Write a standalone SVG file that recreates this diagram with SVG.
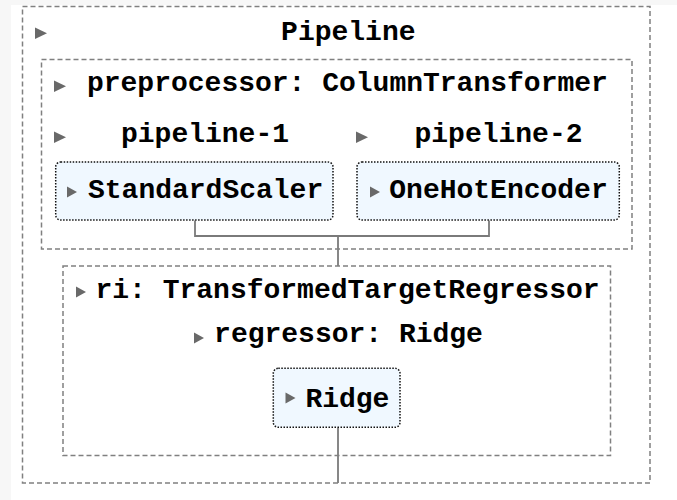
<svg xmlns="http://www.w3.org/2000/svg" width="677" height="500" viewBox="0 0 677 500">
  <style>
    .box { fill: none; stroke: #808080; stroke-width: 1.5; stroke-dasharray: 5 3; }
    .est { fill: #f0f8ff; stroke: #111; stroke-width: 1.5; stroke-dasharray: 1.5 1.5; }
    .lbl { font-family: "Courier New", "Nimbus Mono PS", "FreeMono", "Liberation Mono", monospace; font-weight: bold; font-size: 28px; fill: #000; text-anchor: middle; }
    .tri { fill: #696969; }
    .wire { fill: none; stroke: #7a7a7a; stroke-width: 1.8; }
  </style>

  <!-- page -->
  <rect x="0" y="0" width="677" height="500" fill="#f7f7f7"/>
  <rect x="11" y="5" width="666" height="495" fill="#ffffff"/>

  <!-- connectors -->
  <g id="connectors">
    <polyline class="wire" points="195,220.5 195,236 489,236 489,220.5"/>
    <line class="wire" x1="338" y1="236" x2="338" y2="266"/>
    <line class="wire" x1="338" y1="427.5" x2="338" y2="483"/>
  </g>

  <!-- outer pipeline -->
  <g id="pipeline">
    <rect class="box" x="22.5" y="6.5" width="627.5" height="476.5"/>
    <polygon class="tri" points="35,27.5 35,39 47,33.2"/>
    <text class="lbl" x="348.3" y="40">Pipeline</text>
  </g>

  <!-- column transformer -->
  <g id="preprocessor">
    <rect class="box" x="41.5" y="59.5" width="590.5" height="189.5"/>
    <polygon class="tri" points="54,80.5 54,92 66,86.2"/>
    <text class="lbl" x="347.4" y="91">preprocessor: ColumnTransformer</text>
  </g>

  <g id="pipeline-1">
    <polygon class="tri" points="54,131.5 54,143 66,137.2"/>
    <text class="lbl" x="205" y="141.5">pipeline-1</text>
  </g>

  <g id="pipeline-2">
    <polygon class="tri" points="356,131.5 356,143 368,137.2"/>
    <text class="lbl" x="498.5" y="141.5">pipeline-2</text>
  </g>

  <g id="standardscaler">
    <rect class="est" x="55.7" y="162" width="277.3" height="58" rx="5"/>
    <polygon class="tri" points="67,186.5 67,197.5 77,192"/>
    <text class="lbl" x="205.6" y="198">StandardScaler</text>
  </g>

  <g id="onehotencoder">
    <rect class="est" x="357" y="162" width="262.3" height="58" rx="5"/>
    <polygon class="tri" points="370,186.5 370,197.5 380,192"/>
    <text class="lbl" x="498.5" y="198">OneHotEncoder</text>
  </g>

  <!-- target regressor -->
  <g id="ri">
    <rect class="box" x="63" y="266" width="547.5" height="189.5"/>
    <polygon class="tri" points="76,286.5 76,297.5 86,292"/>
    <text class="lbl" x="347.5" y="298">ri: TransformedTargetRegressor</text>
  </g>

  <g id="regressor">
    <polygon class="tri" points="194,332.5 194,343.5 204,338"/>
    <text class="lbl" x="348.5" y="342">regressor: Ridge</text>
  </g>

  <g id="ridge">
    <rect class="est" x="273.3" y="368.3" width="126.7" height="59" rx="5"/>
    <polygon class="tri" points="285.5,392.5 285.5,403.5 295.5,398"/>
    <text class="lbl" x="347.4" y="407">Ridge</text>
  </g>
</svg>
